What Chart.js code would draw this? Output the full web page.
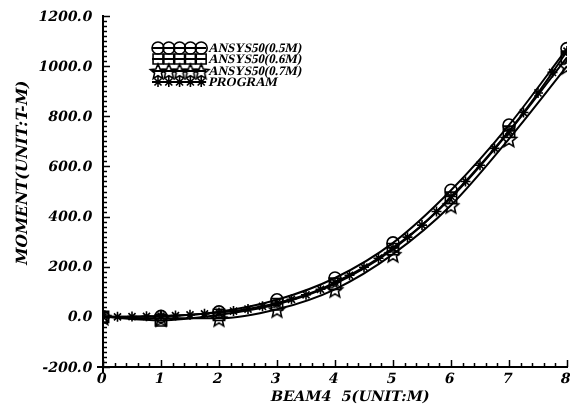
<!DOCTYPE html>
<html>
<head>
<meta charset="utf-8">
<script src="https://cdn.jsdelivr.net/npm/chart.js@4.4.0/dist/chart.umd.min.js"></script>
<style>
html, body { margin: 0; padding: 0; background: #fff; overflow: hidden; }
#wrap { position: absolute; left: 0; top: 0; width: 580px; height: 406px; }
</style>
</head>
<body>
<div id="wrap"><canvas id="c"></canvas></div>
<script>
// FE results at whole metres
const xMetres = [0, 1, 2, 3, 4, 5, 6, 7, 8];
const ansys05 = [0, 2, 20, 68, 155, 295, 505, 765, 1070];
const ansys06 = [0, -14, 8, 50, 132, 270, 475, 738, 1035];
const ansys07 = [0, -6, -6, 30, 110, 250, 445, 710, 1000];

// program output, every quarter metre
const xProgram = [0, 0.25, 0.5, 0.75, 1, 1.25, 1.5, 1.75, 2, 2.25, 2.5, 2.75, 3, 3.25, 3.5, 3.75,
    4, 4.25, 4.5, 4.75, 5, 5.25, 5.5, 5.75, 6, 6.25, 6.5, 6.75, 7, 7.25, 7.5, 7.75, 8];
const program = [0, 0, 1, 2, 3, 5, 8, 12, 17, 23, 31, 42, 55, 70, 88, 110,
    138, 166, 198, 234, 275, 318, 366, 420, 480, 540, 605, 672, 742, 815, 893, 975, 1060];

const legendLabels = ["ANSYS50(0.5M)", "ANSYS50(0.6M)", "ANSYS50(0.7M)", "PROGRAM"];
const xTitle = "BEAM4  5(UNIT:M)";
const yTitle = "MOMENT(UNIT:T-M)";

// no italic faces installed, so text gets slanted by hand
const SLANT = -0.22;
const wide = "'DejaVu Serif', serif";
const narrow = "'Liberation Serif', serif";

function slanted(ctx, text, x, y, font, align, baseline, rot) {
    ctx.save();
    ctx.translate(x, y);
    if (rot) ctx.rotate(rot);
    ctx.transform(1, 0, SLANT, 1, 0, 0);
    ctx.font = font;
    ctx.textAlign = align;
    ctx.textBaseline = baseline;
    ctx.fillStyle = "#000";
    ctx.fillText(text, 0, 0);
    ctx.restore();
}

// five point star outline, used as a point style
function starImage(r) {
    const c = document.createElement("canvas");
    const s = Math.ceil(r * 2 + 4);
    c.width = c.height = s;
    const g = c.getContext("2d");
    g.translate(s / 2, s / 2 + 1);
    g.beginPath();
    for (let i = 0; i < 10; i++) {
        const rad = i % 2 ? r * 0.45 : r;
        const a = -Math.PI / 2 + i * Math.PI / 5;
        g.lineTo(rad * Math.cos(a), rad * Math.sin(a));
    }
    g.closePath();
    g.lineWidth = 1.6;
    g.strokeStyle = "#000";
    g.stroke();
    return c;
}
const star = starImage(8);

const toPoints = (xs, ys) => xs.map((x, i) => ({ x: x, y: ys[i] }));

const line = (label, xs, ys, style, radius) => ({
    label: label,
    data: toPoints(xs, ys),
    borderColor: "#000",
    borderWidth: 2,
    pointStyle: style,
    pointRadius: radius,
    pointBorderWidth: 1.6,
    pointBorderColor: "#000",
    pointBackgroundColor: "rgba(0,0,0,0)",
    cubicInterpolationMode: "monotone",
    fill: false
});

const datasets = [
    line(legendLabels[0], xMetres, ansys05, "circle", 6),
    line(legendLabels[1], xMetres, ansys06, "rect", 8),
    line(legendLabels[2], xMetres, ansys07, star, 8),
    line(legendLabels[3], xProgram, program, "star", 5)
];

function stroke(ctx, x1, y1, x2, y2) {
    ctx.beginPath();
    ctx.moveTo(x1, y1);
    ctx.lineTo(x2, y2);
    ctx.stroke();
}

// inward ticks, slanted labels, axis stubs and the legend inside the plot
const decorations = {
    id: "decorations",
    afterDraw(chart) {
        const { ctx, chartArea: a, scales: { x, y } } = chart;
        ctx.save();
        ctx.strokeStyle = "#000";
        ctx.lineWidth = 1.5;
        for (let i = 0; i <= 70; i++) {
            const py = Math.round(y.getPixelForValue(-200 + i * 20)) + 0.5;
            stroke(ctx, a.left, py, a.left + (i % 10 === 0 ? 7 : 4), py);
        }
        for (let i = 0; i <= 40; i++) {
            const px = Math.round(x.getPixelForValue(i * 0.2)) + 0.5;
            stroke(ctx, px, a.bottom, px, a.bottom - (i % 5 === 0 ? 7 : 4));
        }
        ctx.lineWidth = 2;
        stroke(ctx, a.left, a.bottom, a.left, a.bottom + 6);
        stroke(ctx, a.left - 6, a.bottom, a.left, a.bottom);

        // tick labels from the scales' own ticks
        const tickFont = "bold 14px " + wide;
        y.ticks.forEach(t => {
            slanted(ctx, t.value.toFixed(1), a.left - 11, y.getPixelForValue(t.value) + 1, tickFont, "right", "middle");
        });
        x.ticks.forEach(t => {
            slanted(ctx, String(t.value), x.getPixelForValue(t.value), a.bottom + 5, tickFont, "center", "top");
        });
        slanted(ctx, xTitle, 350, 397, "bold 14.5px " + wide, "center", "middle");
        slanted(ctx, yTitle, 23, 173, "bold 15.5px " + wide, "center", "middle", -Math.PI / 2);

        // legend
        const rowY = [48, 59, 71, 82];
        chart.data.datasets.forEach((ds, i) => {
            const ly = rowY[i];
            ctx.lineWidth = 2;
            stroke(ctx, 152, ly, 206, ly);
            ctx.lineWidth = 1.6;
            ctx.fillStyle = "rgba(0,0,0,0)";
            for (let k = 0; k < 5; k++) {
                const cx = 158 + k * 10.8;
                if (ds.pointStyle instanceof HTMLCanvasElement) {
                    ctx.drawImage(ds.pointStyle, cx - ds.pointStyle.width / 2, ly - ds.pointStyle.height / 2);
                } else {
                    Chart.helpers.drawPoint(ctx, {
                        pointStyle: ds.pointStyle,
                        radius: i === 1 ? 7 : (i === 0 ? 6 : 5),
                        borderWidth: 1.6,
                        rotation: 0
                    }, cx, ly);
                }
            }
            slanted(ctx, ds.label, 209, ly + 1, "bold 13px " + narrow, "left", "middle");
        });
        ctx.restore();
    }
};

new Chart(document.getElementById("c"), {
    type: "line",
    data: { datasets: datasets },
    plugins: [decorations],
    options: {
        responsive: true,
        maintainAspectRatio: false,
        animation: false,
        layout: { padding: { top: 16, right: 13, left: 0, bottom: 0 } },
        plugins: {
            legend: { display: false },
            tooltip: { enabled: false }
        },
        scales: {
            x: {
                type: "linear",
                min: 0,
                max: 8,
                grid: { display: false, drawTicks: false },
                border: { display: true, color: "#000", width: 2 },
                ticks: { stepSize: 1, display: false },
                afterFit: s => { s.height = 39; }
            },
            y: {
                min: -200,
                max: 1200,
                grid: { display: false, drawTicks: false },
                border: { display: true, color: "#000", width: 2 },
                ticks: { stepSize: 200, display: false },
                afterFit: s => { s.width = 103; }
            }
        }
    }
});
</script>
</body>
</html>
